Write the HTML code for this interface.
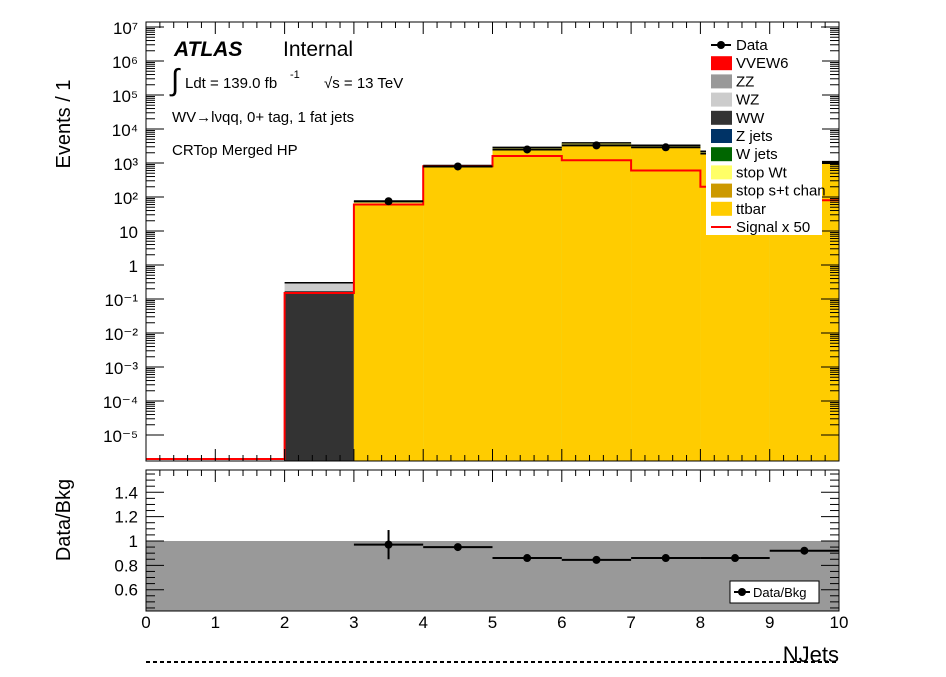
<!DOCTYPE html>
<html><head><meta charset="utf-8"><style>
body{margin:0;background:#fff;width:946px;height:672px;overflow:hidden}
text{font-family:"Liberation Sans",sans-serif;fill:#000}
</style></head><body>
<svg id="c" width="946" height="672" xmlns="http://www.w3.org/2000/svg"></svg>
<script>
const binEdges=[0,1,2,3,4,5,6,7,8,9,10];
const ttbar=[0,0,0,65,780,2600,3500,3000,2000,1000];
const stopWt=[0,0,0,8,60,250,350,280,180,80];
const wjets=[0,0,0,0,5,40,60,50,30,15];
const ww=[0,0,0.17,0,0,0,0,0,0,0];
const wz=[0,0,0.13,0,0,0,0,0,0,0];
const dataX=[3.5,4.5,5.5,6.5,7.5,8.5,9.5];
const dataY=[75,790,2500,3300,2900,1900,1000];
const signal=[1.5e-6,1.5e-6,0.15,60,800,1600,1200,600,200,80];
const ratioY=[0.97,0.95,0.86,0.845,0.86,0.86,0.92];
const ratioErr=[0.12,0.02,0.01,0.01,0.01,0.01,0.015];
const yTicks=["10⁻⁵","10⁻⁴","10⁻³","10⁻²","10⁻¹","1","10","10²","10³","10⁴","10⁵","10⁶","10⁷"];
const rTicks=[0.6,0.8,1,1.2,1.4];

const S=document.getElementById('c');const NS='http://www.w3.org/2000/svg';
function el(t,a,p){const e=document.createElementNS(NS,t);for(const k in a)e.setAttribute(k,a[k]);(p||S).appendChild(e);return e;}
const X0=146,X1=839,PT=22,PB=461,RT=470,RB=611;
const x=v=>X0+(X1-X0)*v/10;
const ly=v=>{const l=Math.log10(Math.max(v,1e-7));return Math.min(PB,265-34*l);};
const lys=v=>Math.min(PB-2,ly(v));
const ry=v=>RB-(RB-RT)*(v-0.425)/(1.583-0.425);

const layers=[[ttbar,'#ffcc00','ttbar'],[stopWt,'#ffff66','stop-wt'],[wjets,'#006600','w-jets'],[ww,'#333333','ww'],[wz,'#cccccc','wz']];
const cum=new Array(10).fill(0);
const stacked=layers.map(L=>{const lo=cum.slice();for(let i=0;i<10;i++)cum[i]+=L[0][i];return [lo,cum.slice(),L[1],L[2]];});
for(let j=stacked.length-1;j>=0;j--){const [lo,hi,col,nm]=stacked[j];
 for(let i=0;i<10;i++){if(hi[i]<=0||hi[i]===lo[i])continue;
  const r=el('rect',{x:x(binEdges[i]),y:ly(hi[i]),width:x(binEdges[i+1])-x(binEdges[i]),height:PB-ly(hi[i]),fill:col});
  
  }}
let tp='';for(let i=0;i<10;i++){if(cum[i]<=0)continue;tp+=`M${x(binEdges[i])},${ly(cum[i])}H${x(binEdges[i+1])}`;}
const tl=el('path',{d:tp,stroke:'#000',fill:'none','stroke-width':1.5});

let sp=`M${x(0)},${lys(signal[0])}`;for(let i=0;i<10;i++){sp+=`V${lys(signal[i])}H${x(binEdges[i+1])}`;}
const sl=el('path',{d:sp,stroke:'#ff0000',fill:'none','stroke-width':2});

dataX.forEach((v,i)=>{const g=el('g',{});
 el('line',{x1:x(v-0.5),x2:x(v+0.5),y1:ly(dataY[i]),y2:ly(dataY[i]),stroke:'#000','stroke-width':2},g);
 el('circle',{cx:x(v),cy:ly(dataY[i]),r:4,fill:'#000'},g);});
el('rect',{x:X0,y:PT,width:X1-X0,height:PB-PT,fill:'none',stroke:'#000','stroke-width':1});
for(let d=-5;d<=7;d++){const yy=265-34*d;
 el('line',{x1:X0,x2:X0+18,y1:yy,y2:yy,stroke:'#000'});el('line',{x1:X1,x2:X1-18,y1:yy,y2:yy,stroke:'#000'});
 for(let m=2;m<=9;m++){const ym=yy-34*Math.log10(m);if(ym<PT||ym>PB)continue;
  el('line',{x1:X0,x2:X0+9,y1:ym,y2:ym,stroke:'#000'});el('line',{x1:X1,x2:X1-9,y1:ym,y2:ym,stroke:'#000'});}
 const t=el('text',{x:138,y:yy+7,'font-size':17,'text-anchor':'end'});t.textContent=yTicks[d+5];
 }
for(let i=0;i<=50;i++){const xx=x(i/5);const h=i%5?6:12;
 el('line',{x1:xx,x2:xx,y1:PB,y2:PB-h,stroke:'#000'});el('line',{x1:xx,x2:xx,y1:PT,y2:PT+h,stroke:'#000'});
 el('line',{x1:xx,x2:xx,y1:RB,y2:RB-h,stroke:'#000'});el('line',{x1:xx,x2:xx,y1:RT,y2:RT+h,stroke:'#000'});}
const band=el('rect',{x:X0,y:ry(1),width:X1-X0,height:RB-ry(1),fill:'#999999'});

dataX.forEach((v,i)=>{const g=el('g',{});
 el('line',{x1:x(v-0.5),x2:x(v+0.5),y1:ry(ratioY[i]),y2:ry(ratioY[i]),stroke:'#000','stroke-width':2},g);
 el('line',{x1:x(v),x2:x(v),y1:ry(ratioY[i]+ratioErr[i]),y2:ry(ratioY[i]-ratioErr[i]),stroke:'#000','stroke-width':2},g);
 el('circle',{cx:x(v),cy:ry(ratioY[i]),r:4,fill:'#000'},g);});
el('rect',{x:X0,y:RT,width:X1-X0,height:RB-RT,fill:'none',stroke:'#000'});
for(let k=0;k<=23;k++){const v=0.45+k*0.05;const yy=ry(v);if(yy<RT||yy>RB)continue;
 const w=(Math.round(v*100)%20===0)?18:9;el('line',{x1:X0,x2:X0+w,y1:yy,y2:yy,stroke:'#000'});el('line',{x1:X1,x2:X1-w,y1:yy,y2:yy,stroke:'#000'});}
rTicks.forEach(v=>{const t=el('text',{x:138,y:ry(v)+6,'font-size':17,'text-anchor':'end'});t.textContent=String(v);
 });
for(let i=0;i<=10;i++){const t=el('text',{x:x(i),y:628,'font-size':17,'text-anchor':'middle'});t.textContent=i;
 }
function txt(s,a,n){const t=el('text',a);t.textContent=s;return t;}
txt('NJets',{x:839,y:662,'font-size':22,'text-anchor':'end'},'x-axis-title');
el('line',{x1:146,x2:839,y1:662,y2:662,stroke:'#000','stroke-width':2,'stroke-dasharray':'4,3'});
txt('Events / 1',{x:70,y:124,'font-size':20,'text-anchor':'middle',transform:'rotate(-90 70 124)'},'y-axis-title');
txt('Data/Bkg',{x:70,y:520,'font-size':20,'text-anchor':'middle',transform:'rotate(-90 70 520)'},'ratio-axis-title');
txt('ATLAS',{x:174,y:56,'font-size':21,'font-weight':'bold','font-style':'italic'},'atlas-label');
txt('Internal',{x:283,y:56,'font-size':21},'internal-label');
txt('∫',{x:171,y:90,'font-size':30},'integral-sign');
txt('Ldt = 139.0 fb',{x:185,y:88,'font-size':15},'lumi-label');
txt('-1',{x:290,y:78,'font-size':11},'lumi-exp');
txt('√s = 13 TeV',{x:324,y:88,'font-size':15},'energy-label');
txt('WV→lνqq, 0+ tag, 1 fat jets',{x:172,y:122,'font-size':15},'channel-label');
txt('CRTop Merged HP',{x:172,y:155,'font-size':15},'region-label');
const lg=el('g',{});
el('rect',{x:706,y:34,width:116,height:201,fill:'#fff'},lg);
const leg=[['Data','data'],['VVEW6','#ff0000'],['ZZ','#999999'],['WZ','#cccccc'],['WW','#333333'],['Z jets','#003366'],['W jets','#006600'],['stop Wt','#ffff66'],['stop s+t chan','#cc9900'],['ttbar','#ffcc00'],['Signal x 50','sig']];
leg.forEach((L,i)=>{const yy=45+i*18.2;const g=el('g',{},lg);
 if(L[1]==='data'){el('line',{x1:711,x2:731,y1:yy,y2:yy,stroke:'#000','stroke-width':2},g);el('circle',{cx:721,cy:yy,r:4,fill:'#000'},g);}
 else if(L[1]==='sig'){el('line',{x1:711,x2:731,y1:yy,y2:yy,stroke:'#ff0000','stroke-width':2},g);}
 else el('rect',{x:711,y:yy-7,width:21,height:14,fill:L[1]},g);
 const t=el('text',{x:736,y:yy+5,'font-size':15},g);t.textContent=L[0];});
const rl=el('g',{});
el('rect',{x:730,y:581,width:89,height:22,fill:'#fff',stroke:'#000'},rl);
el('line',{x1:734,x2:750,y1:592,y2:592,stroke:'#000','stroke-width':2},rl);el('circle',{cx:742,cy:592,r:4,fill:'#000'},rl);
const rt=el('text',{x:753,y:597,'font-size':13},rl);rt.textContent='Data/Bkg';
</script>
</body></html>
